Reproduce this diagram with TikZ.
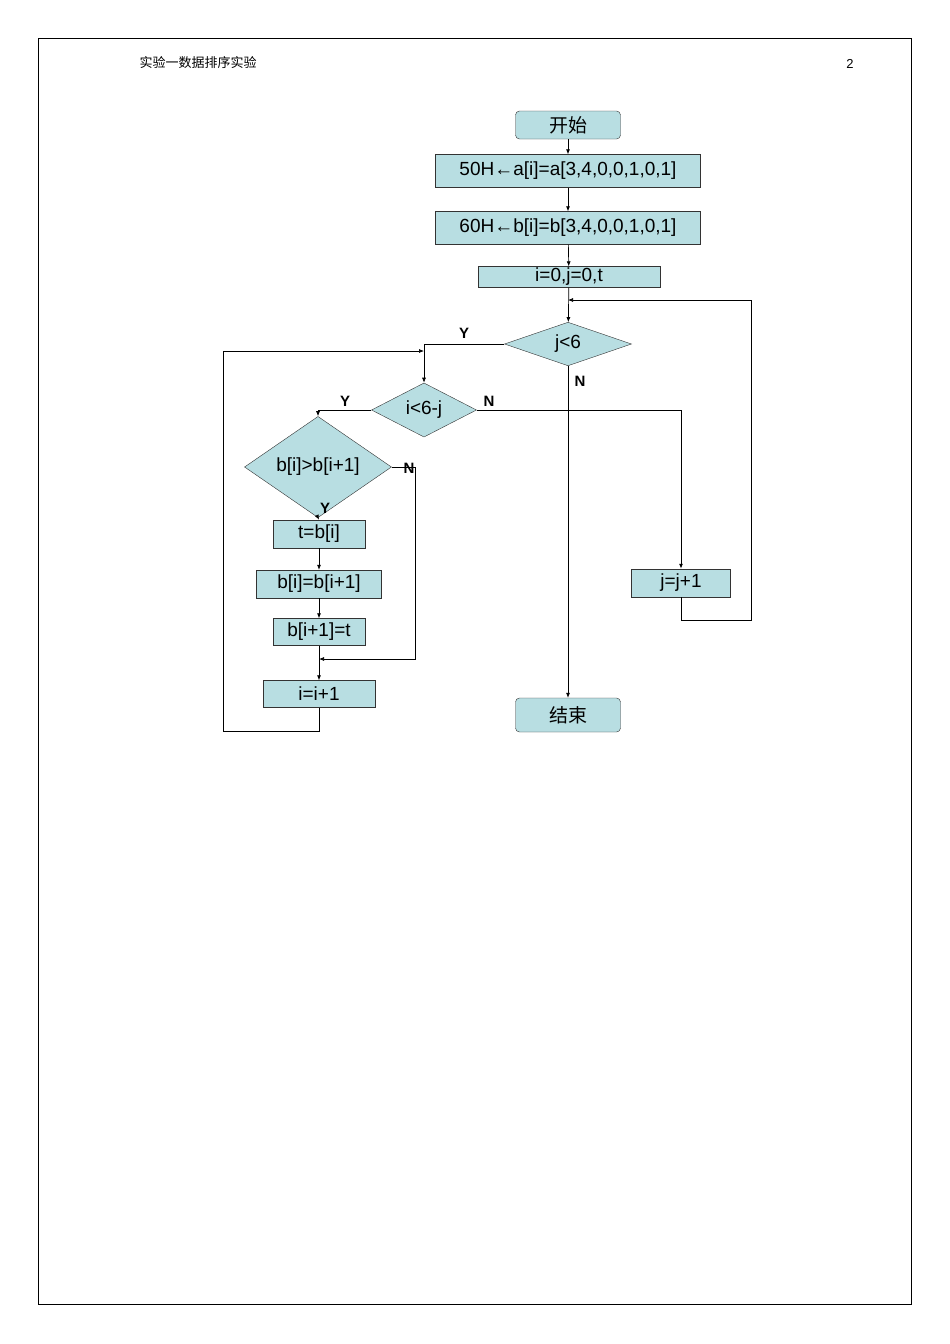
\documentclass[tikz,border=0pt]{standalone}
\usepackage{fontspec}
\setmainfont{Liberation Sans}
\newfontfamily\cjk{Noto Sans CJK SC}
\usetikzlibrary{shapes.geometric,arrows.meta}
\definecolor{fc}{RGB}{184,222,226}
\begin{document}
\begin{tikzpicture}[x=1pt,y=-1pt,
  box/.style={draw=black!80,fill=fc,inner sep=0pt,font=\fontsize{19}{20}\selectfont},
  dia/.style={draw=black!80,fill=fc,diamond,inner sep=0pt,font=\fontsize{19}{20}\selectfont},
  lab/.style={font=\bfseries\fontsize{15}{16}\selectfont},
  arr/.style={-{Latex[length=5pt,width=4pt]},line width=0.7pt},
  ln/.style={line width=0.7pt}]
\useasboundingbox (0,0) rectangle (950,1344);
\draw[line width=0.6pt] (38,38) rectangle (911,1304);
\node[font=\cjk\fontsize{13}{14}\selectfont,anchor=west] (hdr) at (136,63) {实验一数据排序实验};
\node[font=\fontsize{13}{14}\selectfont] (pg) at (850,64) {2};
\node[box,rounded corners=4pt,minimum width=105,minimum height=28,font=\cjk\fontsize{19}{20}\selectfont] (start) at (568,125) {开始};
\node[box,minimum width=265,minimum height=33] (b1) at (568,171) {50H←a[i]=a[3,4,0,0,1,0,1]};
\node[box,minimum width=265,minimum height=33] (b2) at (568,228) {60H←b[i]=b[3,4,0,0,1,0,1]};
\node[box,minimum width=182,minimum height=21] (b3) at (569,277) {i=0,j=0,t};
\node[dia,minimum width=127,minimum height=43] (d1) at (568,344) {j<6};
\node[dia,minimum width=105,minimum height=49] (d2) at (424,410) {i<6-j};
\node[dia,minimum width=147,minimum height=62] (d3) at (318,467) {b[i]>b[i+1]};
\node[box,minimum width=92,minimum height=28] (s1) at (319,534) {t=b[i]};
\node[box,minimum width=125,minimum height=28] (s2) at (319,584) {b[i]=b[i+1]};
\node[box,minimum width=92,minimum height=27] (s3) at (319,632) {b[i+1]=t};
\node[box,minimum width=112,minimum height=27] (s4) at (319,694) {i=i+1};
\node[box,minimum width=99,minimum height=28] (jj) at (681,583) {j=j+1};
\node[box,rounded corners=4pt,minimum width=105,minimum height=34,font=\cjk\fontsize{19}{20}\selectfont] (end) at (568,715) {结束};
\coordinate (c1) at (568,300);
\coordinate (c2) at (319,659);
\coordinate (c3) at (424,351);
\draw[arr] (start) -- (b1);
\draw[arr] (b1) -- (b2);
\draw[arr] (b2) -- (b3);
\draw[arr] (b3) -- (d1);
\draw[arr] (jj.south) -- ++(0,23) -| (751,300) -- (c1);
\draw[arr] (d1.west) -| (d2.north);
\draw[arr] (s4.south) -- ++(0,24) -| (223,351) -- (c3);
\draw[arr] (d2.west) -| (d3.north);
\draw[arr,line width=1pt] (d2.east) -| (jj.north);
\draw[arr] (d1.south) -- (end.north);
\draw[arr] (d3.south) -- (s1.north);
\draw[arr] (s1) -- (s2);
\draw[arr] (s2) -- (s3);
\draw[ln] (s3) -- (c2);
\draw[arr] (c2) -- (s4);
\draw[arr] (d3.east) -- (415,467) |- (c2);
\node[lab] (y1) at (464,333) {Y};
\node[lab] (n1) at (580,381) {N};
\node[lab] (y2) at (345,401) {Y};
\node[lab] (n2) at (489,401) {N};
\node[lab] (n3) at (409,468) {N};
\node[lab] (y3) at (325,508) {Y};
\end{tikzpicture}
\end{document}
